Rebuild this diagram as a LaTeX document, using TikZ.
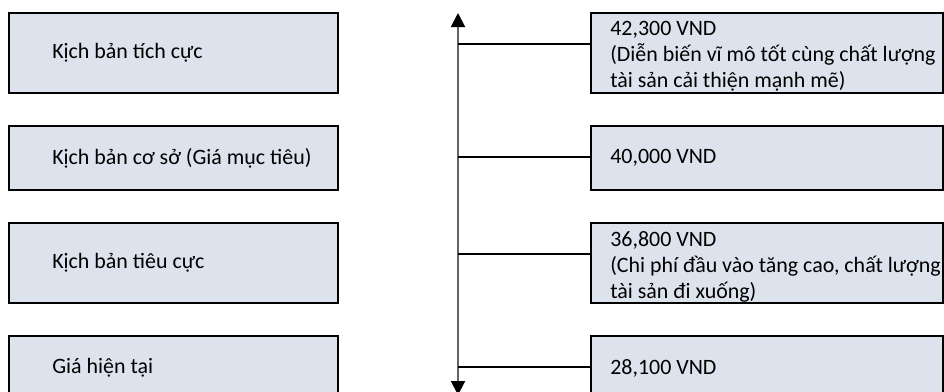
\documentclass[tikz,border=0pt]{standalone}
\usepackage{fontspec}
\setmainfont{Carlito}
\usetikzlibrary{arrows.meta,calc}
\definecolor{boxfill}{RGB}{221,227,237}
\definecolor{axisgray}{RGB}{100,100,100}
\begin{document}
\begin{tikzpicture}[x=0.025cm,y=-0.025cm,
  box/.style={rectangle,draw=black,line width=1.4pt,fill=boxfill,anchor=north west,inner sep=0pt},
  txt/.style={inner sep=0pt,font=\fontsize{15.6}{18.5}\selectfont,align=left},
  link/.style={draw=black,line width=1.4pt}]
\useasboundingbox (0,0) rectangle (944,391);
\clip (0,0) rectangle (944,391);

\coordinate (top) at (458,13);
\coordinate (bot) at (458,395);
\draw[line width=1.4pt,draw=axisgray,{Triangle[width=0.35cm,length=0.35cm,color=black]}-{Triangle[width=0.35cm,length=0.35cm,color=black]}] (top) -- (bot);

\foreach \n/\t/\h in {1/12/2cm,2/125/1.6cm,3/222/2cm,4/335/1.6cm}{
	\node[box,minimum width=8.225cm,minimum height=\h] (l\n) at (8,\t) {};
	\node[box,minimum width=8.8cm,minimum height=\h] (r\n) at (590,\t) {};
}

\foreach \n/\y in {1/44,2/157,3/254,4/367}{
	\coordinate (a\n) at (458,\y);
	\draw[link] (a\n) -- (a\n -| r\n.west);
}

\node[txt,anchor=west] (lt1) at ($(l1.west)+(44,0)$) {Kịch bản tích cực};
\node[txt,anchor=west] (lt2) at ($(l2.west)+(44,0)$) {Kịch bản cơ sở (Giá mục tiêu)};
\node[txt,anchor=west] (lt3) at ($(l3.west)+(44,0)$) {Kịch bản tiêu cực};
\node[txt,anchor=west] (lt4) at ($(l4.west)+(44,0)$) {Giá hiện tại};

\node[txt,anchor=north west] (rt1) at ($(r1.north west)+(20,9)$) {42,300 VND\\(Diễn biến vĩ mô tốt cùng chất lượng\\tài sản cải thiện mạnh mẽ)};
\node[txt,anchor=west] (rt2) at ($(r2.west)+(20,0)$) {40,000 VND};
\node[txt,anchor=north west] (rt3) at ($(r3.north west)+(20,9)$) {36,800 VND\\(Chi phí đầu vào tăng cao, chất lượng\\tài sản đi xuống)};
\node[txt,anchor=west] (rt4) at ($(r4.west)+(20,0)$) {28,100 VND};

\end{tikzpicture}
\end{document}
